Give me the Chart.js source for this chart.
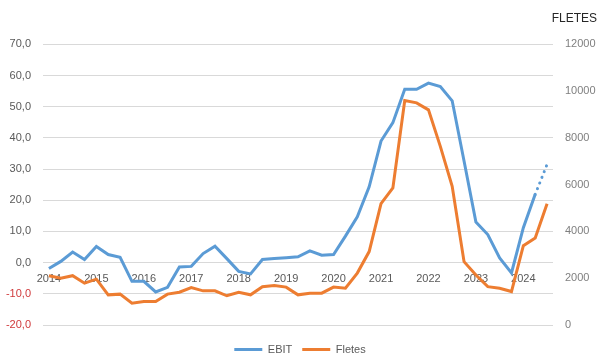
<!DOCTYPE html>
<html>
<head>
<meta charset="utf-8">
<script src="https://cdn.jsdelivr.net/npm/chart.js@4.4.1/dist/chart.umd.min.js"></script>
<style>
  html, body { margin: 0; padding: 0; background: #fff; }
</style>
</head>
<body>
<canvas id="myChart" width="600" height="361"></canvas>
<script>
var quarters = [
    '1T14', '2T14', '3T14', '4T14', '1T15', '2T15', '3T15', '4T15',
    '1T16', '2T16', '3T16', '4T16', '1T17', '2T17', '3T17', '4T17',
    '1T18', '2T18', '3T18', '4T18', '1T19', '2T19', '3T19', '4T19',
    '1T20', '2T20', '3T20', '4T20', '1T21', '2T21', '3T21', '4T21',
    '1T22', '2T22', '3T22', '4T22', '1T23', '2T23', '3T23', '4T23',
    '1T24', '2T24', '3T24'
]
var yearLabels = ['2014', '2015', '2016', '2017', '2018', '2019', '2020', '2021', '2022', '2023', '2024']

// EBIT (eje izquierdo)
var ebit = [
    -1.9, 0.4, 3.4, 1.0, 5.2, 2.6, 1.7, -6.0,
    -6.0, -9.4, -7.9, -1.4, -1.2, 2.9, 5.3, 1.3,
    -2.8, -3.6, 1.0, 1.3, 1.6, 1.9, 3.8, 2.4,
    2.6, 8.5, 14.7, 24.3, 39.0, 44.9, 55.6, 55.6,
    57.6, 56.5, 51.9, 32.6, 13.0, 9.0, 1.5, -3.3,
    11.2, 21.9, 31.5
]
// desde este punto la linea de EBIT es estimada (punteada)
var ebitProjectedFrom = 41

// Fletes (eje derecho)
var fletes = [
    2110, 2000, 2110, 1790, 1960, 1290, 1320, 930,
    1000, 1000, 1320, 1400, 1600, 1460, 1460, 1250,
    1400, 1290, 1640, 1690, 1620, 1290, 1360, 1360,
    1620, 1570, 2220, 3140, 5190, 5860, 9600, 9500,
    9200, 7640, 5930, 2710, 2140, 1640, 1570, 1430,
    3390, 3720, 5190
]

var myChart

function Graphic() {
    var ctx = document.getElementById('myChart')
    myChart = new Chart(ctx, {
        type: 'line',
        data: {
            labels: quarters,
            datasets: [{
                label: 'EBIT',
                data: ebit,
                yAxisID: 'y',
                borderColor: '#5B9BD5',
                backgroundColor: '#5B9BD5',
                borderWidth: 3,
                pointRadius: 0,
                tension: 0,
                segment: {
                    borderDash: function (c) { return c.p0DataIndex >= ebitProjectedFrom ? [0.1, 6] : undefined },
                    borderCapStyle: function (c) { return c.p0DataIndex >= ebitProjectedFrom ? 'round' : 'butt' }
                }
            },
            {
                label: 'Fletes',
                data: fletes,
                yAxisID: 'y1',
                borderColor: '#ED7D31',
                backgroundColor: '#ED7D31',
                borderWidth: 3,
                pointRadius: 0,
                tension: 0
            }]
        },
        options: {
            responsive: false,
            animation: false,
            events: [],
            layout: {
                padding: { left: 3, right: 3, top: 0, bottom: -4 }
            },
            plugins: {
                title: {
                    display: true,
                    text: 'FLETES',
                    align: 'end',
                    color: '#262626',
                    font: { family: 'Liberation Sans, Arial, sans-serif', size: 12, weight: 'normal' },
                    padding: { top: 11, bottom: 19 }
                },
                legend: {
                    position: 'bottom',
                    title: {
                        display: true,
                        text: '',
                        font: { size: 5 },
                        padding: { top: 3, bottom: 0 }
                    },
                    labels: {
                        usePointStyle: true,
                        pointStyle: 'line',
                        pointStyleWidth: 28,
                        padding: 10,
                        color: '#595959',
                        font: { family: 'Liberation Sans, Arial, sans-serif', size: 11 }
                    }
                },
                tooltip: { enabled: false }
            },
            scales: {
                x: {
                    position: { y: 0 },
                    offset: true,
                    grid: { display: false, drawTicks: false },
                    border: { display: false },
                    afterFit: function (s) { s.paddingLeft = 0; s.paddingRight = 0 },
                    ticks: {
                        autoSkip: false,
                        maxRotation: 0,
                        padding: 10,
                        color: '#595959',
                        font: { family: 'Liberation Sans, Arial, sans-serif', size: 11 },
                        callback: function (v, i) { return i % 4 === 0 ? yearLabels[i / 4] : '' }
                    }
                },
                y: {
                    position: 'left',
                    min: -20,
                    max: 70,
                    afterFit: function (s) { s.width = 40 },
                    grid: { color: '#d9d9d9', drawTicks: false },
                    border: { display: false },
                    ticks: {
                        stepSize: 10,
                        padding: 12,
                        font: { family: 'Liberation Sans, Arial, sans-serif', size: 11 },
                        color: function (c) { return c.tick.value < 0 ? '#d0393b' : '#595959' },
                        callback: function (v) { return v.toFixed(1).replace('.', ',') }
                    }
                },
                y1: {
                    position: 'right',
                    min: 0,
                    max: 12000,
                    afterFit: function (s) { s.width = 44 },
                    grid: { display: false, drawTicks: false },
                    border: { display: false },
                    ticks: {
                        stepSize: 2000,
                        padding: 12,
                        color: '#7f7f7f',
                        font: { family: 'Liberation Sans, Arial, sans-serif', size: 11 },
                        callback: function (v) { return String(v) }
                    }
                }
            }
        }
    })
}

window.addEventListener('load', Graphic)
</script>
</body>
</html>
